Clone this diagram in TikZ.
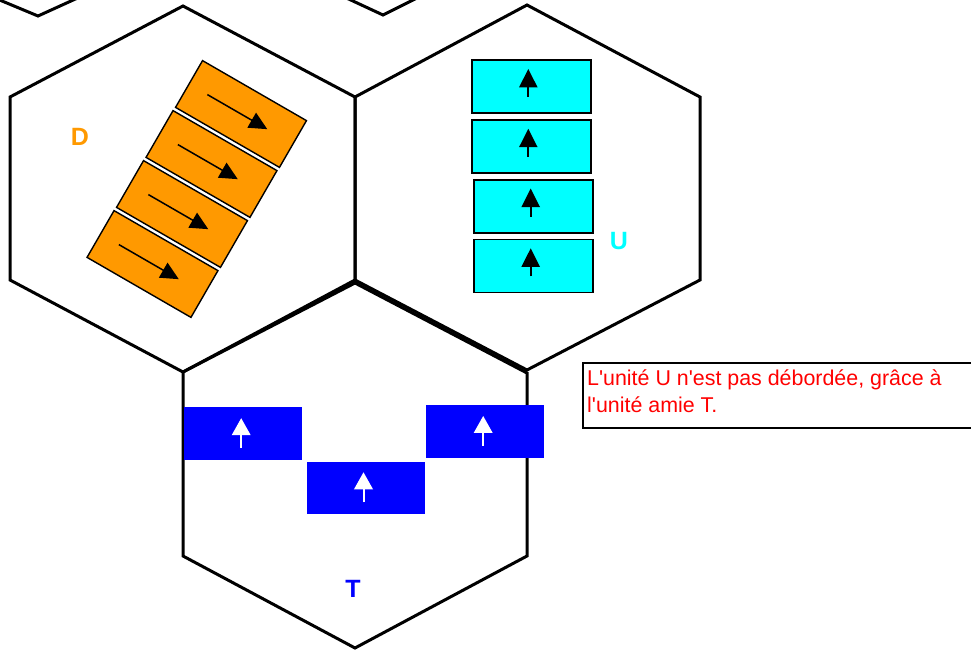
\documentclass[tikz,border=0pt]{standalone}
\usetikzlibrary{positioning, calc, arrows.meta}
\font\msgfont="Liberation Sans" at 21.4pt
\font\lblfont="Liberation Sans/B" at 25pt
\definecolor{dorange}{HTML}{FF9900}
\definecolor{ucyan}{HTML}{00FFFF}
\definecolor{tblue}{HTML}{0000FF}
\definecolor{msgred}{HTML}{FF0000}

\tikzset{
    hexline/.style={line width=3pt},
    dbox/.style={draw, line width=1.4pt, fill=dorange, minimum width=120pt, minimum height=54pt, inner sep=0pt, rotate=-30},
    ubox/.style={draw, line width=1.8pt, fill=ucyan, minimum width=119pt, minimum height=53pt, inner sep=0pt},
    tbox/.style={fill=tblue, minimum width=118pt, minimum height=52.5pt, inner sep=0pt},
    darrow/.style={-{Triangle[length=18pt, width=17pt]}, line width=1.5pt},
    uarrow/.style={-{Triangle[length=18.5pt, width=18pt]}, line width=2.2pt},
    tarrow/.style={-{Triangle[length=17pt, width=18.5pt]}, line width=2pt, white},
    lbl/.style={font=\lblfont, inner sep=0pt},
    msgtext/.style={font={\msgfont\baselineskip=26.7pt}, text=msgred, align=left, inner sep=0pt},
}

\begin{document}
\begin{tikzpicture}[x=1pt, y=-1pt]
    \useasboundingbox (0,0) rectangle (971,650);

    % hexagons
    \draw[hexline] (-10,-4) -- (38,16) -- (82,-4);
    \draw[hexline] (340,-5) -- (383,15) -- (425,-6);
    \draw[hexline] (183,6) -- (355,97) -- (355,280) -- (183,372) -- (10,280) -- (10,97) -- cycle;
    \draw[hexline] (527,5) -- (700,97) -- (700,280) -- (527,370) -- (355,280) -- (355,97) -- cycle;
    \draw[hexline] (355,283) -- (527,373) -- (527,556) -- (355,648) -- (183,556) -- (183,372) -- cycle;

    % unit D
    \node[dbox] (d1) at (241,114) {};
    \node[dbox] (d2) at (211.5,164) {};
    \node[dbox] (d3) at (182,214) {};
    \node[dbox] (d4) at (152.5,264) {};
    \draw[darrow] ($(d1.west)!0.18!(d1.east)$) -- ($(d1.west)!0.75!(d1.east)$);
    \draw[darrow] ($(d2.west)!0.18!(d2.east)$) -- ($(d2.west)!0.75!(d2.east)$);
    \draw[darrow] ($(d3.west)!0.18!(d3.east)$) -- ($(d3.west)!0.75!(d3.east)$);
    \draw[darrow] ($(d4.west)!0.18!(d4.east)$) -- ($(d4.west)!0.75!(d4.east)$);
    \node[lbl, text=dorange] (dlbl) at (80,137) {D};

    % unit U
    \node[ubox] (u1) at (531.3,86.5) {};
    \node[ubox, below=5pt of u1] (u2) {};
    \node[ubox, below=5pt of u2, xshift=2.4pt] (u3) {};
    \node[ubox, below=5pt of u3] (u4) {};
    \draw[uarrow] ([xshift=-3pt, yshift=17pt]u1.south) -- ([xshift=-3pt, yshift=45pt]u1.south);
    \draw[uarrow] ([xshift=-3pt, yshift=17pt]u2.south) -- ([xshift=-3pt, yshift=45pt]u2.south);
    \draw[uarrow] ([xshift=-3pt, yshift=17pt]u3.south) -- ([xshift=-3pt, yshift=45pt]u3.south);
    \draw[uarrow] ([xshift=-3pt, yshift=17pt]u4.south) -- ([xshift=-3pt, yshift=45pt]u4.south);
    \node[lbl, text=ucyan] (ulbl) at (619,241) {U};

    % unit T
    \node[tbox] (t1) at (243.2,433.7) {};
    \node[tbox] (t2) at (365.5,487.8) {};
    \node[tbox] (t3) at (485.2,431.5) {};
    \draw[tarrow] ([xshift=-2pt, yshift=12pt]t1.south) -- ([xshift=-2pt, yshift=42pt]t1.south);
    \draw[tarrow] ([xshift=-2pt, yshift=12pt]t2.south) -- ([xshift=-2pt, yshift=42pt]t2.south);
    \draw[tarrow] ([xshift=-2pt, yshift=12pt]t3.south) -- ([xshift=-2pt, yshift=42pt]t3.south);
    \node[lbl, text=tblue] (tlbl) at (353,589) {T};

    % message
    \draw[line width=1.8pt, fill=white] (583,363) rectangle (990,428);
    \node[msgtext, anchor=north west] (msg) at (587,370) {L'unité U n'est pas débordée, grâce à\\l'unité amie T.};

\end{tikzpicture}
\end{document}
